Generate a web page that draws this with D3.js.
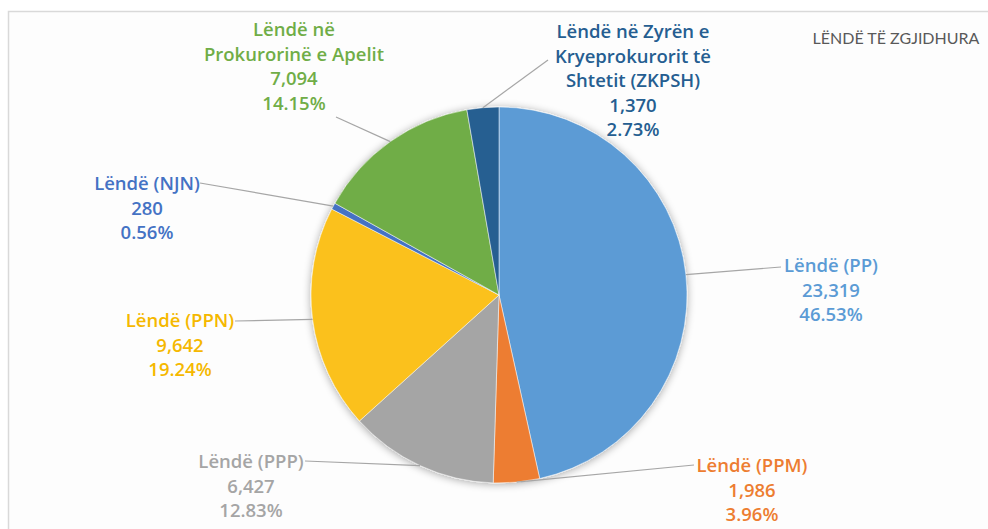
<!DOCTYPE html>
<html><head><meta charset="utf-8">
<script src="https://cdn.jsdelivr.net/npm/d3@7"></script>
<style>
html,body{margin:0;padding:0;background:#fff;}
svg{display:block;}
</style></head>
<body>
<svg id="chart" width="988" height="529"></svg>
<script>
// Data
const categories = ["Lëndë (PP)", "Lëndë (PPM)", "Lëndë (PPP)", "Lëndë (PPN)", "Lëndë (NJN)", "Lëndë në Prokurorinë e Apelit", "Lëndë në Zyrën e Kryeprokurorit të Shtetit (ZKPSH)"];
const labelLines = [
  ["Lëndë (PP)"], ["Lëndë (PPM)"], ["Lëndë (PPP)"], ["Lëndë (PPN)"], ["Lëndë (NJN)"],
  ["Lëndë në", "Prokurorinë e Apelit"],
  ["Lëndë në Zyrën e", "Kryeprokurorit të", "Shtetit (ZKPSH)"]
];
const values = [23319, 1986, 6427, 9642, 280, 7094, 1370];
const percentLabels = ["46.53%", "3.96%", "12.83%", "19.24%", "0.56%", "14.15%", "2.73%"];
const colors = ["#5B9BD5", "#ED7D31", "#A5A5A5", "#FBC11A", "#4472C4", "#70AD47", "#255E91"];
const textColors = ["#5B9BD5", "#ED7D31", "#A5A5A5", "#F5B800", "#4472C4", "#70AD47", "#255E91"];
const title = "LËNDË TË ZGJIDHURA";

// Layout (label anchor: center x, first baseline y, and leader-line start)
const labelPos = [
  {x: 831, y: 272, lx: 781, ly: 267},
  {x: 752, y: 472, lx: 694, ly: 465},
  {x: 251, y: 468, lx: 305, ly: 461},
  {x: 180, y: 327, lx: 235, ly: 321},
  {x: 147, y: 190, lx: 200, ly: 183},
  {x: 294, y: 36, lx: 336, ly: 117},
  {x: 633, y: 38, lx: 548, ly: 60}
];

const svg = d3.select("#chart");
const W = 988, H = 529;
const cx = 499, cy = 295, R = 188;

// frame
svg.append("rect").attr("x", 8.5).attr("y", 11.5).attr("width", W + 10).attr("height", H + 10)
  .attr("fill", "#fdfdfd").attr("stroke", "#d9d9d9").attr("stroke-width", 1.5);

const defs = svg.append("defs");
const f = defs.append("filter").attr("id", "shadow").attr("x", "-20%").attr("y", "-20%").attr("width", "140%").attr("height", "140%");
f.append("feGaussianBlur").attr("in", "SourceAlpha").attr("stdDeviation", 4).attr("result", "b");
f.append("feOffset").attr("in", "b").attr("dx", 0).attr("dy", 1).attr("result", "o");
f.append("feComponentTransfer").attr("in", "o").attr("result", "t")
  .append("feFuncA").attr("type", "linear").attr("slope", 0.35);
const m = f.append("feMerge");
m.append("feMergeNode").attr("in", "t");
m.append("feMergeNode").attr("in", "SourceGraphic");

const pie = d3.pie().sort(null).value(d => d)(values);
const arc = d3.arc().innerRadius(0).outerRadius(R);

const g = svg.append("g").attr("transform", `translate(${cx},${cy})`);
const slices = g.append("g").attr("filter", "url(#shadow)");
slices.selectAll("path").data(pie).join("path")
  .attr("d", arc)
  .attr("fill", (d, i) => colors[i])
  .attr("stroke", "#ffffff").attr("stroke-width", 0.5);

// leader lines
const edge = d3.arc().innerRadius(R).outerRadius(R);
svg.append("g").selectAll("line").data(pie).join("line")
  .attr("x1", (d, i) => labelPos[i].lx).attr("y1", (d, i) => labelPos[i].ly)
  .attr("x2", d => cx + edge.centroid(d)[0]).attr("y2", d => cy + edge.centroid(d)[1])
  .attr("stroke", "#a6a6a6").attr("stroke-width", 1.2);

// labels
const fmtN = d3.format(",");
const lh = 24.5;
pie.forEach((d, i) => {
  const lines = labelLines[i].concat([fmtN(values[i]), percentLabels[i]]);
  const t = svg.append("text")
    .attr("text-anchor", "middle")
    .attr("font-family", "'Open Sans', sans-serif")
    .attr("font-weight", 600)
    .attr("font-size", 18.5)
    .attr("fill", textColors[i]);
  lines.forEach((s, k) => {
    t.append("tspan").attr("x", labelPos[i].x).attr("y", labelPos[i].y + k * lh).text(s);
  });
});

svg.append("text").attr("x", 896).attr("y", 44).attr("text-anchor", "middle")
  .attr("font-family", "Lato, sans-serif").attr("font-size", 16)
  .attr("fill", "#595959").text(title);
</script>
</body></html>
